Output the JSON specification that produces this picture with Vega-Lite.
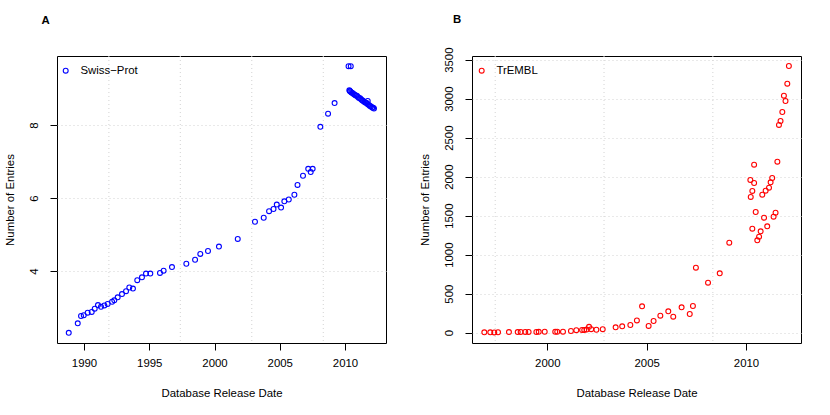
{
  "$schema": "https://vega.github.io/schema/vega-lite/v6.json",
  "padding": {"left": 3, "top": 13, "right": 0, "bottom": 0},
  "background": "white",
  "config": {
    "font": "Liberation Sans",
    "view": {"stroke": "black", "strokeWidth": 1},
    "axis": {
      "labelFont": "Liberation Sans", "labelFontSize": 11.4, "labelColor": "black",
      "titleFont": "Liberation Sans", "titleFontSize": 11.4, "titleFontWeight": "normal", "titleColor": "black",
      "tickColor": "black", "tickSize": 7, "domain": false,
      "gridColor": "#d3d3d3", "gridDash": [1, 3], "gridWidth": 1
    },
    "axisX": {"labelPadding": 7, "titlePadding": 19.5, "grid": false},
    "axisY": {"labelAngle": -90, "labelAlign": "center", "labelBaseline": "bottom", "labelPadding": 10.5, "titlePadding": 13.5, "grid": true},
    "title": {"font": "Liberation Sans", "fontSize": 11.4, "fontWeight": "bold", "anchor": "start", "frame": "group", "baseline": "alphabetic", "color": "black"},
    "legend": {"labelFont": "Liberation Sans", "labelFontSize": 11.4, "labelColor": "black"}
  },
  "datasets": {
    "swissprot": [
      {"date": 1988.83, "entries": 2.31}, {"date": 1989.52, "entries": 2.57}, {"date": 1989.77, "entries": 2.77},
      {"date": 1989.98, "entries": 2.79}, {"date": 1990.28, "entries": 2.86}, {"date": 1990.59, "entries": 2.88},
      {"date": 1990.82, "entries": 2.97}, {"date": 1991.07, "entries": 3.07}, {"date": 1991.30, "entries": 3.02},
      {"date": 1991.56, "entries": 3.06}, {"date": 1991.81, "entries": 3.10}, {"date": 1992.15, "entries": 3.16},
      {"date": 1992.32, "entries": 3.20}, {"date": 1992.58, "entries": 3.28}, {"date": 1992.91, "entries": 3.37},
      {"date": 1993.22, "entries": 3.45}, {"date": 1993.47, "entries": 3.55}, {"date": 1993.75, "entries": 3.52},
      {"date": 1994.08, "entries": 3.75}, {"date": 1994.44, "entries": 3.83}, {"date": 1994.75, "entries": 3.93},
      {"date": 1995.08, "entries": 3.93}, {"date": 1995.82, "entries": 3.95}, {"date": 1996.10, "entries": 4.01},
      {"date": 1996.74, "entries": 4.11}, {"date": 1997.84, "entries": 4.20}, {"date": 1998.51, "entries": 4.31},
      {"date": 1998.91, "entries": 4.47}, {"date": 1999.50, "entries": 4.55}, {"date": 2000.34, "entries": 4.67},
      {"date": 2001.78, "entries": 4.88}, {"date": 2003.10, "entries": 5.35}, {"date": 2003.77, "entries": 5.46},
      {"date": 2004.18, "entries": 5.64}, {"date": 2004.52, "entries": 5.70}, {"date": 2004.77, "entries": 5.82},
      {"date": 2005.10, "entries": 5.74}, {"date": 2005.35, "entries": 5.91}, {"date": 2005.69, "entries": 5.96},
      {"date": 2006.12, "entries": 6.09}, {"date": 2006.36, "entries": 6.36}, {"date": 2006.78, "entries": 6.61},
      {"date": 2007.18, "entries": 6.80}, {"date": 2007.37, "entries": 6.71}, {"date": 2007.52, "entries": 6.80},
      {"date": 2008.11, "entries": 7.95}, {"date": 2008.70, "entries": 8.31}, {"date": 2009.20, "entries": 8.60},
      {"date": 2010.27, "entries": 9.61}, {"date": 2010.44, "entries": 9.61},
      {"date": 2010.33, "entries": 8.95}, {"date": 2010.37, "entries": 8.93}, {"date": 2010.41, "entries": 8.92},
      {"date": 2010.49, "entries": 8.89}, {"date": 2010.57, "entries": 8.88}, {"date": 2010.66, "entries": 8.85},
      {"date": 2010.74, "entries": 8.83}, {"date": 2010.82, "entries": 8.81}, {"date": 2010.91, "entries": 8.80},
      {"date": 2010.99, "entries": 8.77}, {"date": 2011.07, "entries": 8.74}, {"date": 2011.16, "entries": 8.73},
      {"date": 2011.24, "entries": 8.70}, {"date": 2011.32, "entries": 8.68}, {"date": 2011.39, "entries": 8.66},
      {"date": 2011.49, "entries": 8.63}, {"date": 2011.58, "entries": 8.61}, {"date": 2011.66, "entries": 8.60},
      {"date": 2011.74, "entries": 8.57}, {"date": 2011.74, "entries": 8.66}, {"date": 2011.83, "entries": 8.55},
      {"date": 2011.91, "entries": 8.52}, {"date": 2011.99, "entries": 8.51}, {"date": 2012.08, "entries": 8.48},
      {"date": 2012.16, "entries": 8.47}, {"date": 2012.22, "entries": 8.45}
    ],
    "trembl": [
      {"date": 1996.83, "entries": 5}, {"date": 1997.13, "entries": 5}, {"date": 1997.33, "entries": 4},
      {"date": 1997.52, "entries": 6}, {"date": 1998.07, "entries": 8}, {"date": 1998.51, "entries": 8},
      {"date": 1998.66, "entries": 9}, {"date": 1998.89, "entries": 10}, {"date": 1999.06, "entries": 10},
      {"date": 1999.45, "entries": 10}, {"date": 1999.57, "entries": 11}, {"date": 1999.87, "entries": 12},
      {"date": 2000.40, "entries": 12}, {"date": 2000.50, "entries": 12}, {"date": 2000.79, "entries": 13},
      {"date": 2001.19, "entries": 22}, {"date": 2001.46, "entries": 33}, {"date": 2001.75, "entries": 35},
      {"date": 2001.86, "entries": 36}, {"date": 2001.98, "entries": 40}, {"date": 2002.10, "entries": 75},
      {"date": 2002.21, "entries": 45}, {"date": 2002.47, "entries": 38}, {"date": 2002.79, "entries": 45},
      {"date": 2003.44, "entries": 69}, {"date": 2003.77, "entries": 82}, {"date": 2004.18, "entries": 99},
      {"date": 2004.51, "entries": 158}, {"date": 2004.77, "entries": 338}, {"date": 2005.10, "entries": 87},
      {"date": 2005.35, "entries": 150}, {"date": 2005.69, "entries": 218}, {"date": 2006.09, "entries": 274},
      {"date": 2006.34, "entries": 205}, {"date": 2006.76, "entries": 325}, {"date": 2007.17, "entries": 240},
      {"date": 2007.33, "entries": 342}, {"date": 2007.48, "entries": 833}, {"date": 2008.09, "entries": 641},
      {"date": 2008.68, "entries": 761}, {"date": 2009.16, "entries": 1154}, {"date": 2010.22, "entries": 1958},
      {"date": 2010.24, "entries": 1740}, {"date": 2010.32, "entries": 1817}, {"date": 2010.32, "entries": 1333},
      {"date": 2010.41, "entries": 1919}, {"date": 2010.41, "entries": 2154}, {"date": 2010.49, "entries": 1547},
      {"date": 2010.57, "entries": 1184}, {"date": 2010.66, "entries": 1231}, {"date": 2010.74, "entries": 1300},
      {"date": 2010.82, "entries": 1769}, {"date": 2010.91, "entries": 1474}, {"date": 2010.99, "entries": 1820},
      {"date": 2011.07, "entries": 1364}, {"date": 2011.16, "entries": 1859}, {"date": 2011.24, "entries": 1928},
      {"date": 2011.32, "entries": 1983}, {"date": 2011.39, "entries": 1487}, {"date": 2011.49, "entries": 1538},
      {"date": 2011.58, "entries": 2192}, {"date": 2011.66, "entries": 2663}, {"date": 2011.74, "entries": 2714},
      {"date": 2011.83, "entries": 2829}, {"date": 2011.91, "entries": 3038}, {"date": 2011.99, "entries": 2970},
      {"date": 2012.08, "entries": 3192}, {"date": 2012.16, "entries": 3419}
    ],
    "gridA": [{"date": 1991.905}, {"date": 1997.378}, {"date": 2002.855}, {"date": 2008.333}],
    "gridB": [{"date": 1997.378}, {"date": 2002.855}, {"date": 2008.333}]
  },
  "hconcat": [
    {
      "width": 329, "height": 287,
      "title": {"text": "A", "dx": -15.5, "offset": 29},
      "layer": [
        {
          "data": {"name": "gridA"},
          "mark": {"type": "rule", "color": "#d3d3d3", "strokeDash": [1, 3], "strokeWidth": 1},
          "encoding": {"x": {"field": "date", "type": "quantitative"}}
        },
        {
          "data": {"name": "swissprot"},
          "transform": [{"calculate": "'Swiss−Prot'", "as": "db"}],
          "mark": {"type": "point", "shape": "circle", "filled": false, "size": 24, "strokeWidth": 1.1, "opacity": 1},
          "encoding": {
            "x": {"field": "date", "type": "quantitative", "title": "Database Release Date",
                  "scale": {"domain": [1987.93, 2013.14], "nice": false, "zero": false},
                  "axis": {"values": [1990, 1995, 2000, 2005, 2010], "format": "d"}},
            "y": {"field": "entries", "type": "quantitative", "title": "Number of Entries",
                  "scale": {"domain": [2.03, 9.89], "nice": false, "zero": false},
                  "axis": {"values": [4, 6, 8]}},
            "color": {"field": "db", "type": "nominal", "scale": {"domain": ["Swiss−Prot"], "range": ["#0000ff"]},
                      "legend": {"title": null, "orient": "none", "legendX": 3, "legendY": 9, "padding": 0,
                                 "symbolType": "circle", "symbolSize": 24, "symbolStrokeWidth": 1.1,
                                 "symbolStrokeColor": "#0000ff", "symbolFillColor": "transparent", "labelOffset": 9}}
          }
        }
      ]
    },
    {
      "width": 329, "height": 287,
      "title": {"text": "B", "dx": -19, "offset": 22},
      "layer": [
        {
          "data": {"name": "gridB"},
          "mark": {"type": "rule", "color": "#d3d3d3", "strokeDash": [1, 3], "strokeWidth": 1},
          "encoding": {"x": {"field": "date", "type": "quantitative"}}
        },
        {
          "data": {"name": "trembl"},
          "transform": [{"calculate": "'TrEMBL'", "as": "db"}],
          "mark": {"type": "point", "shape": "circle", "filled": false, "size": 24, "strokeWidth": 1.1, "opacity": 1},
          "encoding": {
            "x": {"field": "date", "type": "quantitative", "title": "Database Release Date",
                  "scale": {"domain": [1996.21, 2012.77], "nice": false, "zero": false},
                  "axis": {"values": [2000, 2005, 2010], "format": "d"}},
            "y": {"field": "entries", "type": "quantitative", "title": "Number of Entries",
                  "scale": {"domain": [-132, 3547], "nice": false, "zero": false},
                  "axis": {"values": [0, 500, 1000, 1500, 2000, 2500, 3000, 3500], "format": "d"}},
            "color": {"field": "db", "type": "nominal", "scale": {"domain": ["TrEMBL"], "range": ["#ff0000"]},
                      "legend": {"title": null, "orient": "none", "legendX": 4, "legendY": 9, "padding": 0,
                                 "symbolType": "circle", "symbolSize": 24, "symbolStrokeWidth": 1.1,
                                 "symbolStrokeColor": "#ff0000", "symbolFillColor": "transparent", "labelOffset": 9}}
          }
        }
      ]
    }
  ],
  "spacing": 86,
  "bounds": "flush",
  "resolve": {"scale": {"color": "independent", "x": "independent", "y": "independent"}, "legend": {"color": "independent"}}
}
